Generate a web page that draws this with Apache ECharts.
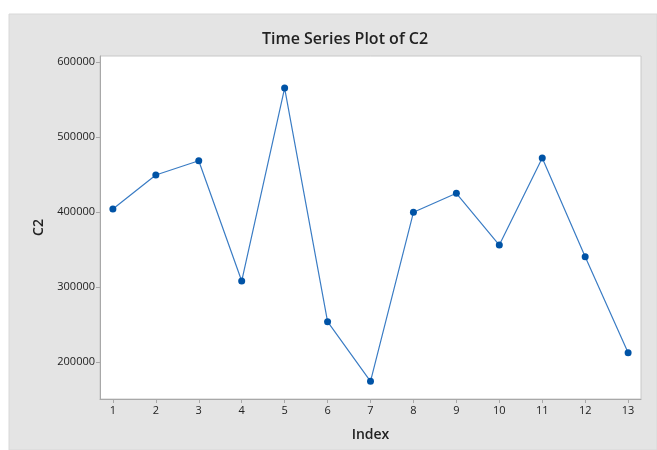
<!DOCTYPE html>
<html>
<head>
<meta charset="utf-8">
<script src="https://cdn.jsdelivr.net/npm/echarts@6/dist/echarts.min.js"></script>
<style>
html,body{margin:0;padding:0;background:#fff;}
#c{width:657px;height:450px;}
</style>
</head>
<body>
<div id="c"></div>
<script>
var indexValues = [1,2,3,4,5,6,7,8,9,10,11,12,13];
var c2Values = [404000,449300,468400,308000,565300,253800,174200,399600,425000,356000,472000,340500,212400];
var yTicks = [200000,300000,400000,500000,600000];
var xTicks = [1,2,3,4,5,6,7,8,9,10,11,12,13];

var chart = echarts.init(document.getElementById('c'), null, {renderer:'canvas'});
var pts = indexValues.map(function(x,i){return [x, c2Values[i]];});
chart.setOption({
  animation:false,
  backgroundColor:'#ffffff',
  graphic:[{type:'rect', z:-10, silent:true, shape:{x:9,y:14,width:648,height:436}, style:{fill:'#e4e4e4', stroke:'#d8d8d8', lineWidth:1}}],
  title:{text:'Time Series Plot of C2', left:340, top:26, textAlign:'center',
    textStyle:{fontFamily:'Open Sans', fontSize:16, fontWeight:600, color:'#222'}},
  grid:{left:100, top:56, right:16, bottom:51, show:true, backgroundColor:'#ffffff', borderColor:'#c8c8c8', borderWidth:1},
  xAxis:{type:'value', min:0.7, max:13.3, name:'Index', nameLocation:'middle', nameGap:29,
    nameTextStyle:{fontFamily:'Open Sans', fontSize:14, fontWeight:600, color:'#222'},
    axisLine:{show:true, lineStyle:{color:'#a8a8a8', width:1}},
    axisTick:{show:true, length:4, customValues:xTicks, lineStyle:{color:'#a8a8a8'}},
    axisLabel:{customValues:xTicks, margin:6, fontFamily:'Open Sans', fontSize:11, color:'#222',
      formatter:function(v){return String(v);}},
    splitLine:{show:false}},
  yAxis:{type:'value', min:150700, max:608000, name:'C2', nameLocation:'middle', nameGap:52,
    nameTextStyle:{fontFamily:'Open Sans', fontSize:14, fontWeight:600, color:'#222'},
    axisLine:{show:true, lineStyle:{color:'#a8a8a8', width:1}},
    axisTick:{show:true, length:4, customValues:yTicks, lineStyle:{color:'#a8a8a8'}},
    axisLabel:{customValues:yTicks, margin:5, fontFamily:'Open Sans', fontSize:11, color:'#222',
      formatter:function(v){return String(v);}},
    splitLine:{show:false}},
  series:[{type:'line', data:pts, symbol:'circle', symbolSize:7,
    lineStyle:{color:'#3a7cc4', width:1.2},
    itemStyle:{color:'#0053a6'}}]
});
</script>
</body>
</html>
